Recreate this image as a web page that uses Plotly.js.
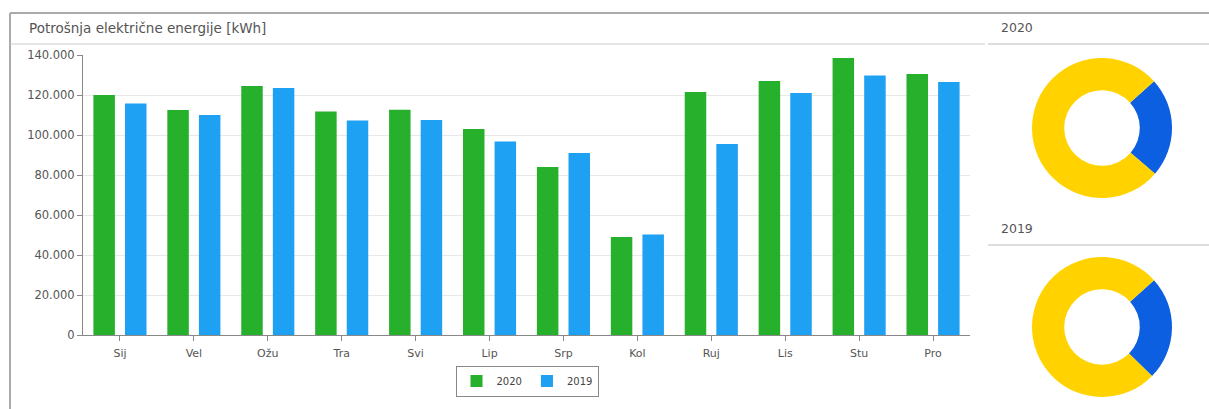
<!DOCTYPE html>
<html><head><meta charset="utf-8">
<script src="https://cdn.plot.ly/plotly-3.0.1.min.js"></script>
<style>html,body{margin:0;padding:0;background:#fff;}#c{width:1209px;height:409px;}</style>
</head><body><div id="c"></div>
<script>
const months = ["Sij","Vel","Ožu","Tra","Svi","Lip","Srp","Kol","Ruj","Lis","Stu","Pro"];
const values2020 = [120000,112500,124500,111800,112600,103000,84000,49000,121500,127000,138500,130500];
const values2019 = [115800,110000,123500,107200,107500,96800,91000,50300,95500,121000,129800,126500];
const tickVals = [0,20000,40000,60000,80000,100000,120000,140000];
const donutLabels = ["NT","VT"];
const donut2020 = [23,77];
const donut2019 = [24,76];
const chartTitle = "Potrošnja električne energije [kWh]";

const W=1209,H=409;
const px=x=>x/W, py=y=>1-y/H;
const green="#27b02c", blue="#1ea0f3", yellow="#ffd200", dblue="#0b5fe0";

const traces=[
 {type:"bar",name:"2020",x:months,y:values2020,marker:{color:green},hoverinfo:"x+y"},
 {type:"bar",name:"2019",x:months,y:values2019,marker:{color:blue},hoverinfo:"x+y"},
 {type:"pie",labels:donutLabels,values:donut2020,hole:0.54,sort:false,direction:"clockwise",rotation:48,
  marker:{colors:[dblue,yellow],line:{width:0}},textinfo:"none",showlegend:false,
  domain:{x:[px(1032),px(1172)],y:[py(198),py(58)]}},
 {type:"pie",labels:donutLabels,values:donut2019,hole:0.54,sort:false,direction:"clockwise",rotation:48,
  marker:{colors:[dblue,yellow],line:{width:0}},textinfo:"none",showlegend:false,
  domain:{x:[px(1032),px(1172)],y:[py(397),py(257)]}}
];

const line=(x0,y0,x1,y1,c,w)=>({type:"line",xref:"paper",yref:"paper",x0:px(x0),y0:py(y0),x1:px(x1),y1:py(y1),line:{color:c,width:w}});

const layout={
 width:W,height:H,margin:{l:0,r:0,t:0,b:0},
 paper_bgcolor:"#fff",plot_bgcolor:"#fff",
 separators:",.",
 font:{family:"DejaVu Sans, Verdana, sans-serif",size:10,color:"#555"},
 barmode:"group",bargap:0.145,bargroupgap:0.32,
 xaxis:{domain:[px(83),px(970)],showline:true,linecolor:"#888",linewidth:1,ticks:"outside",ticklen:5,tickcolor:"#888",
   ticklabelstandoff:3,tickfont:{size:11,color:"#555"},showgrid:false,fixedrange:true},
 yaxis:{domain:[py(335),py(55)],range:[0,140000],tickvals:tickVals,tickformat:",d",showline:true,linecolor:"#888",linewidth:1,
   ticks:"outside",ticklen:5,tickcolor:"#888",gridcolor:"#e8e8e8",zeroline:false,tickfont:{size:11.5,color:"#555"},fixedrange:true},
 legend:{orientation:"h",x:px(527),xanchor:"center",y:py(381),yanchor:"middle",bordercolor:"#888",borderwidth:1,
   font:{size:10,color:"#444"},itemwidth:30,tracegroupgap:0},
 shapes:[
  line(10,13,1209,13,"#aaa",2),
  line(10,13,10,409,"#aaa",2),
  line(10,44,985,44,"#ccc",1),
  line(988,44,1209,44,"#bbb",1),
  line(988,245,1209,245,"#bbb",1)
 ],
 annotations:[
  {text:chartTitle,xref:"paper",yref:"paper",x:px(27),y:py(28),xanchor:"left",yanchor:"middle",showarrow:false,font:{size:13.5,color:"#555"}},
  {text:"2020",xref:"paper",yref:"paper",x:px(999),y:py(28),xanchor:"left",yanchor:"middle",showarrow:false,font:{size:12.5,color:"#555"}},
  {text:"2019",xref:"paper",yref:"paper",x:px(999),y:py(228),xanchor:"left",yanchor:"middle",showarrow:false,font:{size:12.5,color:"#555"}}
 ]
};
Plotly.newPlot("c",traces,layout,{displayModeBar:false,staticPlot:true});
</script></body></html>
